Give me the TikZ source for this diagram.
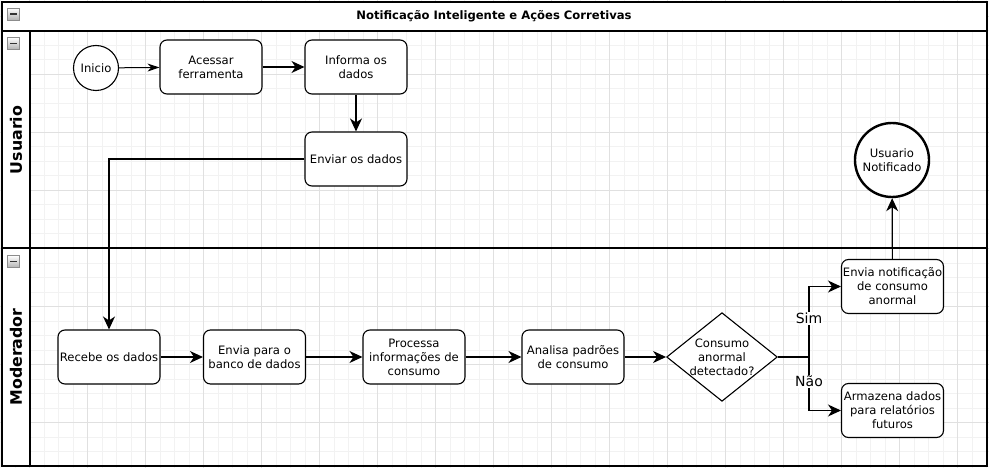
\documentclass[tikz,border=0pt]{standalone}
\usepackage{fontspec}
\setmainfont{DejaVu Sans}
\usetikzlibrary{arrows.meta,shapes.geometric}
\tikzset{
  passo/.style={draw,rounded corners=7pt,minimum width=102pt,minimum height=54pt,align=center,inner sep=1pt,line width=1.1pt,fill=white,font=\fontsize{11.6}{14}\selectfont},
  inicio/.style={draw,circle,minimum size=45pt,inner sep=0pt,line width=1.1pt,fill=white,font=\fontsize{11.6}{14}\selectfont},
  fim/.style={draw,circle,minimum size=74pt,inner sep=0pt,line width=2.4pt,fill=white,align=center,font=\fontsize{11.6}{14}\selectfont},
  decisao/.style={draw,diamond,aspect=1.25,minimum width=108pt,minimum height=86pt,inner sep=0pt,align=center,line width=1.1pt,fill=white,font=\fontsize{11.6}{14}\selectfont},
  seta/.style={line width=1.2pt,-{Stealth[length=13pt,width=12pt,inset=4pt]}},
  setafina/.style={line width=1pt,-{Stealth[length=12pt,width=8pt,inset=4pt]}},
  rotulo/.style={fill=white,inner sep=1pt,font=\fontsize{14}{16}\selectfont},
  raia/.style={rotate=90,font=\bfseries\fontsize{15.8}{18}\selectfont},
  menor/.style={draw=black!5,line width=.6pt},
  maior/.style={draw=black!12,line width=.8pt},
}
\begin{document}
\begin{tikzpicture}[x=1pt,y=-1pt]
\useasboundingbox(0,0)rectangle(989,468);
% grade de fundo
\foreach \i in {0,...,68}{\draw[menor](\i*14.5+0.3,0)--(\i*14.5+0.3,468);}
\foreach \i in {0,...,32}{\draw[menor](0,\i*14.5+1.8)--(989,\i*14.5+1.8);}
\foreach \i in {0,...,17}{\draw[maior](\i*58-28.7,0)--(\i*58-28.7,468);}
\foreach \i in {0,...,8}{\draw[maior](0,\i*58+16.3)--(989,\i*58+16.3);}
\fill[white](2,2)rectangle(987,31);\fill[white](2,31)rectangle(30,466);
% raias
\draw[line width=1.3pt](2,2)rectangle(987,466);\draw[line width=1.3pt](2,31)--(987,31);
\draw[line width=1.3pt](30,31)--(30,466);\draw[line width=1.3pt](2,248)--(987,248);
\node[font=\bfseries\fontsize{11.6}{14}\selectfont](tit)at(494,16.5){Notificação Inteligente e Ações Corretivas};
\node[raia](usu)at(16,140){Usuario};\node[raia](mod)at(16,357){Moderador};
\foreach \y in {14,43.3,261.5}{\draw[black!45,top color=white,bottom color=black!30,line width=.6pt](7.5,\y-6)rectangle(19.5,\y+6);\draw[line width=1.4pt,black!80](10,\y)--(17,\y);}
% passos
\node[inicio](ini)at(96,68){Inicio};
\node[passo](ace)at(211,67){Acessar\\ferramenta};
\node[passo](inf)at(356,67){Informa os\\dados};
\node[passo](env)at(356,159){Enviar os dados};
\node[passo](rec)at(109,357){Recebe os dados};
\node[passo](ban)at(254.5,357){Envia para o\\banco de dados};
\node[passo](pro)at(414,357){Processa\\informações de\\consumo};
\node[passo](ana)at(573,357){Analisa padrões\\de consumo};
\node[decisao](dec)at(722,357){Consumo\\anormal\\detectado?};
\node[passo](not)at(892.5,286.5){Envia notificação\\de consumo\\anormal};
\node[passo](arm)at(892.5,410.5){Armazena dados\\para relatórios\\futuros};
\node[fim](unt)at(892,160){Usuario\\Notificado};
\coordinate(j)at(809,357);
% ligacoes
\draw[setafina](ini)--(ace);\draw[seta](ace)--(inf);\draw[seta](inf)--(env);
\draw[seta](env.west)-|(rec.north);
\draw[seta](rec)--(ban);\draw[seta](ban)--(pro);\draw[seta](pro)--(ana);\draw[seta](ana)--(dec);
\draw[line width=1.2pt](dec.east)--(j);
\draw[seta](j)|-(not.west);\draw[seta](j)|-(arm.west);
\draw[seta](not)--(unt);
\node[rotulo](sim)at(809,318.5){Sim};\node[rotulo](nao)at(809,381.5){Não};
\end{tikzpicture}
\end{document}
